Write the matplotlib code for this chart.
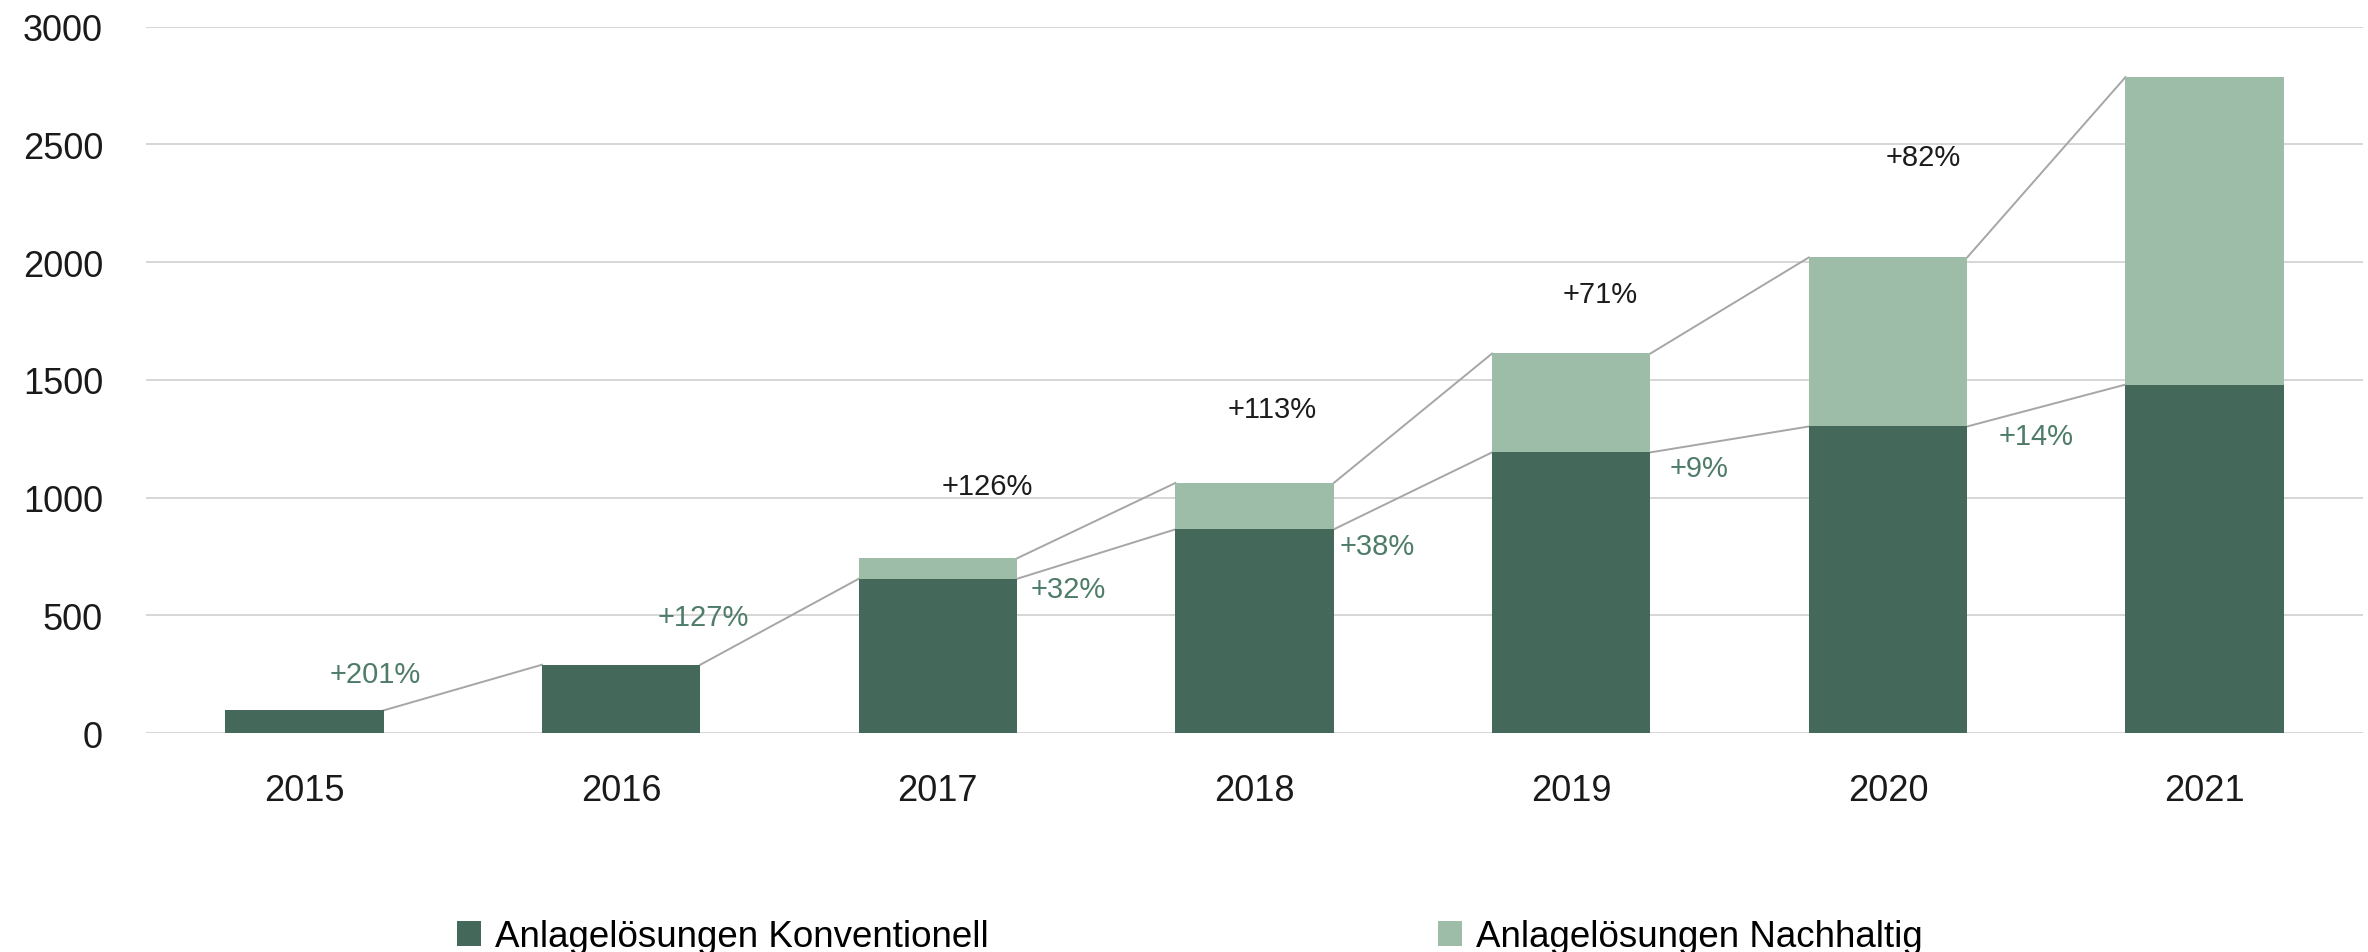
import matplotlib
matplotlib.use("Agg")
import matplotlib.pyplot as plt
from matplotlib.patches import Patch
import numpy as np

# ---------------- data ----------------
years = ["2015", "2016", "2017", "2018", "2019", "2020", "2021"]
konventionell = [96, 290, 655, 865, 1192, 1302, 1480]
nachhaltig = [0, 0, 87, 197, 420, 718, 1306]
series_names = ["Anlagelösungen Konventionell", "Anlagelösungen Nachhaltig"]
yticks = [0, 500, 1000, 1500, 2000, 2500, 3000]

# growth labels: conventional (green) and sustainable (black)
konv_growth_labels = ["+201%", "+127%", "+32%", "+38%", "+9%", "+14%"]
nach_growth_labels = ["+126%", "+113%", "+71%", "+82%"]

# ---------------- style ----------------
DARK = "#44685a"
LIGHT = "#9dbda9"
GREEN_TXT = "#4f7c68"
BLACK_TXT = "#1c1c1c"
GRID = "#d6d6d6"
LINE = "#a6a6a6"
FONT = "Liberation Sans"

plt.rcParams["font.family"] = [FONT, "DejaVu Sans"]

fig = plt.figure(figsize=(23.68, 9.53), dpi=100)
ax = fig.add_axes([0.0617, 0.2298, 0.9362, 0.7411])

x = np.arange(len(years))
w = 0.5
konv = np.array(konventionell, dtype=float)
nach = np.array(nachhaltig, dtype=float)
total = konv + nach

ax.bar(x, konv, width=w, color=DARK, zorder=3, label=series_names[0])
ax.bar(x, nach, width=w, bottom=konv, color=LIGHT, zorder=3, label=series_names[1])

# connecting lines (conventional tops)
for i in range(len(x) - 1):
    ax.plot([x[i] + w / 2, x[i + 1] - w / 2], [konv[i], konv[i + 1]],
            color=LINE, lw=1.4, zorder=2)
# connecting lines (total tops, where sustainable exists)
for i in range(len(x) - 1):
    if nach[i] > 0 and nach[i + 1] > 0:
        ax.plot([x[i] + w / 2, x[i + 1] - w / 2], [total[i], total[i + 1]],
                color=LINE, lw=1.4, zorder=2)

# conventional growth labels
konv_pos = [(0.225, 250, "center"), (1.258, 492, "center"),
            (2.294, 612, "left"), (3.269, 794, "left"),
            (4.31, 1126, "left"), (5.35, 1262, "left")]
for lab, (px, py, ha) in zip(konv_growth_labels, konv_pos):
    ax.text(px, py, lab, color=GREEN_TXT, fontsize=21, ha=ha, va="center", zorder=4)

# sustainable growth labels
nach_pos = [(2.155, 1051), (3.057, 1376), (4.09, 1865), (5.11, 2447)]
for lab, (px, py) in zip(nach_growth_labels, nach_pos):
    ax.text(px, py, lab, color=BLACK_TXT, fontsize=21, ha="center", va="center", zorder=4)

ax.set_xlim(-0.5, len(years) - 0.5)
ax.set_ylim(0, 3000)
ax.set_yticks(yticks)
ax.set_yticklabels([str(v) for v in yticks])
ax.set_xticks(x)
ax.set_xticklabels(years)
ax.yaxis.grid(True, color=GRID, lw=1.4, zorder=0)
ax.set_axisbelow(True)
for s in ax.spines.values():
    s.set_visible(False)
ax.tick_params(axis="both", length=0, labelsize=26, colors="#1a1a1a")
ax.tick_params(axis="y", pad=31)
ax.tick_params(axis="x", pad=29)

handles = [Patch(facecolor=DARK, edgecolor="none"), Patch(facecolor=LIGHT, edgecolor="none")]
fig.legend(handles, series_names, loc="center", bbox_to_anchor=(0.5025, 0.016),
           ncol=2, frameon=False, fontsize=26.5, handlelength=0.65, handleheight=0.65,
           handletextpad=0.38, columnspacing=12.2, borderaxespad=0)

fig.savefig("out.png", dpi=100, facecolor="white")
